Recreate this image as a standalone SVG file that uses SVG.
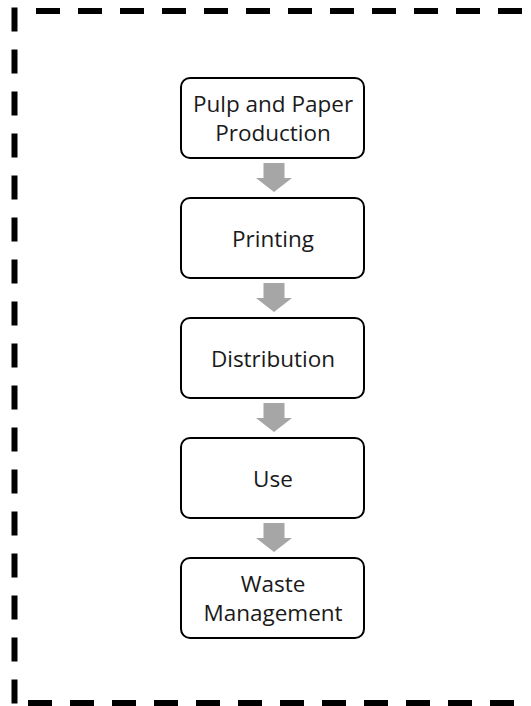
<svg xmlns="http://www.w3.org/2000/svg" width="531" height="706" viewBox="0 0 531 706">
<style>
.border{fill:none;stroke:#000;stroke-width:6;stroke-dasharray:24 18}
.box{fill:#fff;stroke:#000;stroke-width:2}
.lbl{font-family:"Open Sans","Noto Sans",sans-serif;font-size:22.5px;fill:#1a1a1a;text-anchor:middle}
.arr{fill:#a6a6a6}
</style>
<defs>
<path id="arrow" class="arr" d="M-10.5,0 H10.5 V15 H18 L0,29 L-18,15 H-10.5 Z"/>
</defs>
<rect width="531" height="706" fill="#fff"/>
<g id="frame">
<line class="border" x1="14.5" y1="7.5" x2="14.5" y2="706"/>
<line class="border" x1="36" y1="11" x2="531" y2="11"/>
<line class="border" x1="28" y1="703" x2="531" y2="703"/>
</g>
<g id="connectors">
<use href="#arrow" x="274" y="163"/>
<use href="#arrow" x="274" y="283"/>
<use href="#arrow" x="274" y="403"/>
<use href="#arrow" x="274" y="523"/>
</g>
<g id="node-pulp">
<rect class="box" x="181" y="78" width="183" height="80" rx="9"/>
<text class="lbl" x="273" y="112">Pulp and Paper</text>
<text class="lbl" x="273" y="141">Production</text>
</g>
<g id="node-printing">
<rect class="box" x="181" y="198" width="183" height="80" rx="9"/>
<text class="lbl" x="273" y="246.5">Printing</text>
</g>
<g id="node-distribution">
<rect class="box" x="181" y="318" width="183" height="80" rx="9"/>
<text class="lbl" x="273" y="366.5">Distribution</text>
</g>
<g id="node-use">
<rect class="box" x="181" y="438" width="183" height="80" rx="9"/>
<text class="lbl" x="273" y="486.5">Use</text>
</g>
<g id="node-waste">
<rect class="box" x="181" y="558" width="183" height="80" rx="9"/>
<text class="lbl" x="273" y="592">Waste</text>
<text class="lbl" x="273" y="621">Management</text>
</g>
</svg>
